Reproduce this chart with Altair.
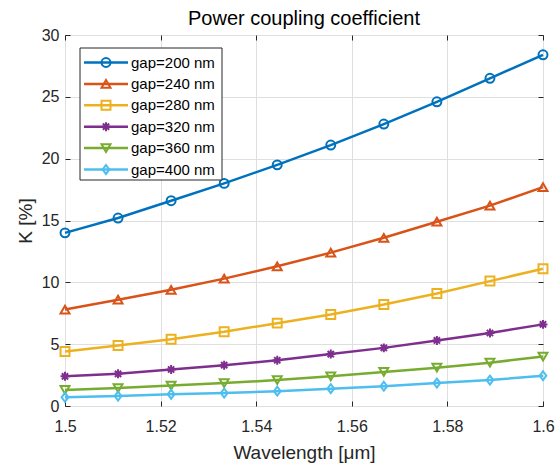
import altair as alt
import pandas as pd

wavelength = [1.5, 1.5111, 1.5222, 1.5333, 1.5444, 1.5556, 1.5667, 1.5778, 1.5889, 1.6]
series = ["gap=200 nm", "gap=240 nm", "gap=280 nm", "gap=320 nm", "gap=360 nm", "gap=400 nm"]
k200 = [14.0, 15.2, 16.6, 18.0, 19.5, 21.1, 22.8, 24.6, 26.5, 28.4]
k240 = [7.8, 8.6, 9.4, 10.3, 11.3, 12.4, 13.6, 14.9, 16.2, 17.7]
k280 = [4.4, 4.9, 5.4, 6.0, 6.7, 7.4, 8.2, 9.1, 10.1, 11.1]
k320 = [2.4, 2.6, 2.95, 3.3, 3.7, 4.2, 4.7, 5.3, 5.9, 6.6]
k360 = [1.3, 1.45, 1.65, 1.85, 2.1, 2.4, 2.75, 3.1, 3.5, 4.0]
k400 = [0.7, 0.8, 0.95, 1.05, 1.2, 1.4, 1.6, 1.85, 2.1, 2.45]
colors = ["#0072BD", "#D95319", "#EDB120", "#7E2F8E", "#77AC30", "#4DBEEE"]
shapes = ["circle", "triangle-up", "square",
          "M-1,0L1,0M0,-1L0,1M-0.7,-0.7L0.7,0.7M-0.7,0.7L0.7,-0.7",
          "triangle-down", "M0,-1L0.75,0L0,1L-0.75,0Z"]
x_ticks = [1.5, 1.52, 1.54, 1.56, 1.58, 1.6]
y_ticks = [0, 5, 10, 15, 20, 25, 30]

W, H = 478, 371
FONT = "Liberation Sans"
TXT = "#262626"

rows = []
for name, vals in zip(series, [k200, k240, k280, k320, k360, k400]):
    for w, v in zip(wavelength, vals):
        rows.append({"series": name, "wl": w, "K": v})
df = pd.DataFrame(rows)

color = alt.Color("series:N", scale=alt.Scale(domain=series, range=colors), legend=None)
shape = alt.Shape("series:N", scale=alt.Scale(domain=series, range=shapes), legend=None)
xs = alt.Scale(domain=[1.5, 1.6], nice=False, zero=False)
ys = alt.Scale(domain=[0, 30], nice=False)

main_x = alt.Axis(values=x_ticks, format="~g", grid=True, ticks=False, domain=False, labelFlush=False,
                  title="Wavelength [μm]", labelPadding=12, titlePadding=9)
main_y = alt.Axis(values=y_ticks, grid=True, ticks=False, domain=False, labelFlush=False,
                  title="K [%]", labelPadding=6, titlePadding=6)

lines = alt.Chart(df).mark_line(strokeWidth=2.5).encode(
    x=alt.X("wl:Q", scale=xs, axis=main_x),
    y=alt.Y("K:Q", scale=ys, axis=main_y),
    color=color, detail="series:N")

points = alt.Chart(df).mark_point(filled=False, strokeWidth=2, size=80, opacity=1).encode(
    x=alt.X("wl:Q", scale=xs, axis=alt.Axis(orient="top", offset=-H, values=x_ticks, labels=False,
                                              grid=False, domain=False, tickSize=5, tickColor=TXT, title=None)),
    y=alt.Y("K:Q", scale=ys, axis=alt.Axis(orient="right", offset=-W, values=y_ticks, labels=False,
                                             grid=False, domain=False, tickSize=5, tickColor=TXT, title=None)),
    color=color, shape=shape)

ticks2 = alt.Chart(df).mark_point(opacity=0).encode(
    x=alt.X("wl:Q", scale=xs, axis=alt.Axis(orient="bottom", offset=-H, values=x_ticks, labels=False,
                                              grid=False, domain=False, tickSize=5, tickColor=TXT, title=None)),
    y=alt.Y("K:Q", scale=ys, axis=alt.Axis(orient="left", offset=-W, values=y_ticks, labels=False,
                                             grid=False, domain=False, tickSize=5, tickColor=TXT, title=None)))

# legend (positions in pixels inside plot area)
leg = pd.DataFrame({
    "series": series,
    "ly": [27.5 + i * 21.4 for i in range(len(series))],
})
leg["lx1"] = 19
leg["lx2"] = 63
leg["mx"] = 41
leg["tx"] = 66
box = pd.DataFrame({"x1": [15], "x2": [157], "y1": [13], "y2": [145]})

leg_box = alt.Chart(box).mark_rect(fill="white", stroke=TXT, strokeWidth=1).encode(
    x=alt.X("x1:Q", scale=None, axis=None), x2="x2:Q",
    y=alt.Y("y1:Q", scale=None, axis=None), y2="y2:Q")
leg_lines = alt.Chart(leg).mark_rule(strokeWidth=2.5).encode(
    x=alt.X("lx1:Q", scale=None, axis=None), x2="lx2:Q",
    y=alt.Y("ly:Q", scale=None, axis=None), color=color)
leg_pts = alt.Chart(leg).mark_point(filled=False, strokeWidth=2, size=80, opacity=1).encode(
    x=alt.X("mx:Q", scale=None, axis=None),
    y=alt.Y("ly:Q", scale=None, axis=None), color=color, shape=shape)
leg_txt = alt.Chart(leg).mark_text(align="left", baseline="middle", font=FONT, fontSize=15, color="#000").encode(
    x=alt.X("tx:Q", scale=None, axis=None),
    y=alt.Y("ly:Q", scale=None, axis=None), text="series:N")

chart = alt.layer(lines, points, ticks2, leg_box, leg_lines, leg_pts, leg_txt).resolve_scale(
    x="independent", y="independent").resolve_axis(x="independent", y="independent").properties(
    width=W, height=H,
    title=alt.TitleParams("Power coupling coefficient", fontSize=20, fontWeight="normal",
                          font=FONT, color="#000", offset=4, dy=6),
    autosize=alt.AutoSizeParams(type="none"),
    padding={"left": 65, "top": 35, "right": 17, "bottom": 57},
).configure_view(stroke=TXT, strokeWidth=1).configure_axis(
    labelFont=FONT, titleFont=FONT, labelFontSize=16, titleFontSize=19,
    labelColor=TXT, titleColor=TXT, titleFontWeight="normal",
    gridColor="#dfdfdf", gridWidth=1)

chart.save("out.html", embed_options={"renderer": "svg", "actions": False})
